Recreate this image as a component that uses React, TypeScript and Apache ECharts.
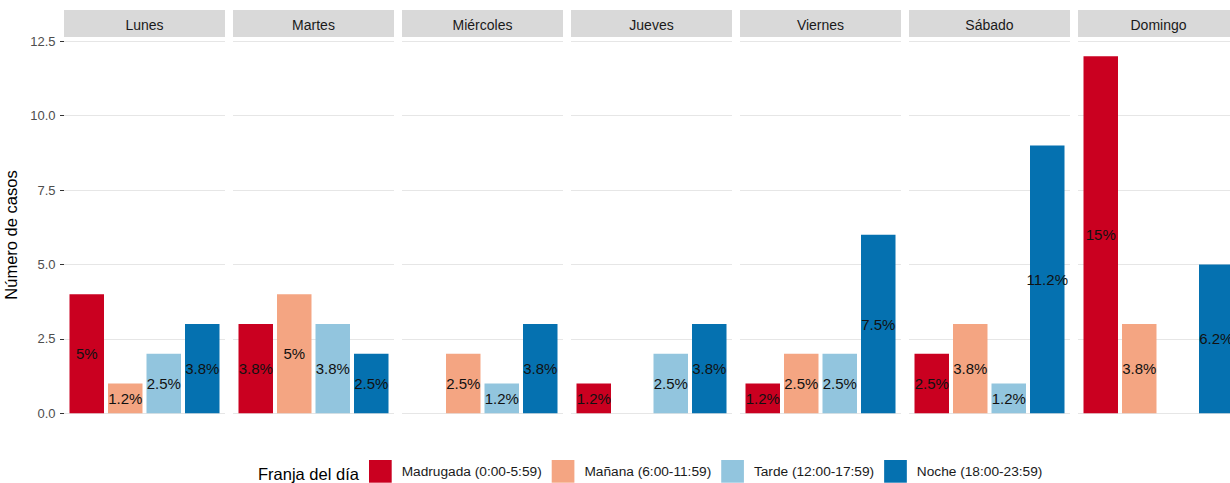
import React, { useEffect, useRef } from "react";
import * as echarts from "echarts";

const days = ["Lunes", "Martes", "Miércoles", "Jueves", "Viernes", "Sábado", "Domingo"];
const franjas = [
  "Madrugada (0:00-5:59)",
  "Mañana (6:00-11:59)",
  "Tarde (12:00-17:59)",
  "Noche (18:00-23:59)",
];
const colors = ["#CA0020", "#F4A582", "#92C5DE", "#0571B0"];

const madrugada = [4, 3, 0, 1, 1, 2, 12];
const manana = [1, 4, 2, 0, 2, 3, 3];
const tarde = [2, 3, 1, 2, 2, 1, 0];
const noche = [3, 2, 3, 3, 6, 9, 5];

const pctMadrugada = ["5%", "3.8%", "", "1.2%", "1.2%", "2.5%", "15%"];
const pctManana = ["1.2%", "5%", "2.5%", "", "2.5%", "3.8%", "3.8%"];
const pctTarde = ["2.5%", "3.8%", "1.2%", "2.5%", "2.5%", "1.2%", ""];
const pctNoche = ["3.8%", "2.5%", "3.8%", "3.8%", "7.5%", "11.2%", "6.2%"];

const yMin = 0;
const yMax = 12.5;
const yInterval = 2.5;

const values = [madrugada, manana, tarde, noche];
const pcts = [pctMadrugada, pctManana, pctTarde, pctNoche];

const FONT = "'Liberation Sans', Arial, sans-serif";

export default function App() {
  const ref = useRef<HTMLDivElement>(null);

  useEffect(() => {
    if (!ref.current) return;
    const chart = echarts.init(ref.current, null, { renderer: "svg" });

    const panelLeft = 64;
    const panelPitch = 169;
    const panelWidth = 161;
    const panelTop = 41.3;
    const panelHeight = 372;

    const grids: any[] = [];
    const xAxes: any[] = [];
    const yAxes: any[] = [];
    const series: any[] = [];
    const graphics: any[] = [];

    days.forEach((day, i) => {
      const left = panelLeft + i * panelPitch;
      grids.push({ left, top: panelTop, width: panelWidth, height: panelHeight, containLabel: false });
      xAxes.push({
        type: "category",
        gridIndex: i,
        data: [day],
        boundaryGap: true,
        axisLine: { show: false },
        axisTick: { show: false },
        axisLabel: { show: false },
        splitLine: { show: false },
      });
      yAxes.push({
        type: "value",
        gridIndex: i,
        min: yMin,
        max: yMax,
        interval: yInterval,
        axisLine: { show: false },
        axisTick: { show: i === 0, length: 4, lineStyle: { color: "#333333", width: 1 } },
        axisLabel: {
          show: i === 0,
          margin: 8.5,
          fontSize: 13,
          color: "#4D4D4D",
          fontFamily: FONT,
          formatter: (v: number) => v.toFixed(1),
        },
        splitLine: { show: true, lineStyle: { color: "#E6E6E6", width: 1.2 } },
      });
      franjas.forEach((f, j) => {
        const v = values[j][i];
        series.push({
          type: "bar",
          name: f,
          xAxisIndex: i,
          yAxisIndex: i,
          barWidth: 34.5,
          barGap: "11.6%",
          data: [v === 0 ? "-" : v],
          itemStyle: { color: colors[j] },
          label: {
            show: true,
            position: "inside",
            formatter: () => pcts[j][i],
            fontSize: 15,
            color: "#111111",
            fontFamily: FONT,
          },
        });
      });
      graphics.push({
        type: "rect",
        shape: { x: left, y: 10, width: panelWidth, height: 27 },
        style: { fill: "#D9D9D9" },
        silent: true,
      });
      graphics.push({
        type: "text",
        x: left + panelWidth / 2,
        y: 25,
        style: {
          text: day,
          fill: "#1A1A1A",
          fontSize: 14,
          fontFamily: FONT,
          align: "center",
          verticalAlign: "middle",
        },
        silent: true,
      });
    });

    graphics.push({
      type: "text",
      x: 11,
      y: 235,
      rotation: Math.PI / 2,
      style: {
        text: "Número de casos",
        fill: "#000000",
        fontSize: 16.5,
        fontFamily: FONT,
        align: "center",
        verticalAlign: "middle",
      },
      silent: true,
    });
    graphics.push({
      type: "text",
      x: 258,
      y: 474,
      style: {
        text: "Franja del día",
        fill: "#000000",
        fontSize: 16.5,
        fontFamily: FONT,
        align: "left",
        verticalAlign: "middle",
      },
      silent: true,
    });

    chart.setOption({
      animation: false,
      backgroundColor: "#FFFFFF",
      grid: grids,
      xAxis: xAxes,
      yAxis: yAxes,
      series,
      legend: {
        data: franjas,
        left: 369,
        top: 460,
        orient: "horizontal",
        icon: "rect",
        itemWidth: 22.7,
        itemHeight: 22.7,
        itemGap: 10,
        padding: 0,
        selectedMode: false,
        textStyle: {
          fontSize: 13.7,
          color: "#1A1A1A",
          fontFamily: FONT,
          padding: [3, 0, 0, 5],
        },
      },
      graphic: graphics,
    });

    return () => chart.dispose();
  }, []);

  return (
    <div
      style={{
        position: "fixed",
        left: 0,
        top: 0,
        width: 1230,
        height: 483,
        overflow: "hidden",
        background: "#FFFFFF",
      }}
    >
      <div ref={ref} style={{ width: 1245, height: 483 }} />
    </div>
  );
}
